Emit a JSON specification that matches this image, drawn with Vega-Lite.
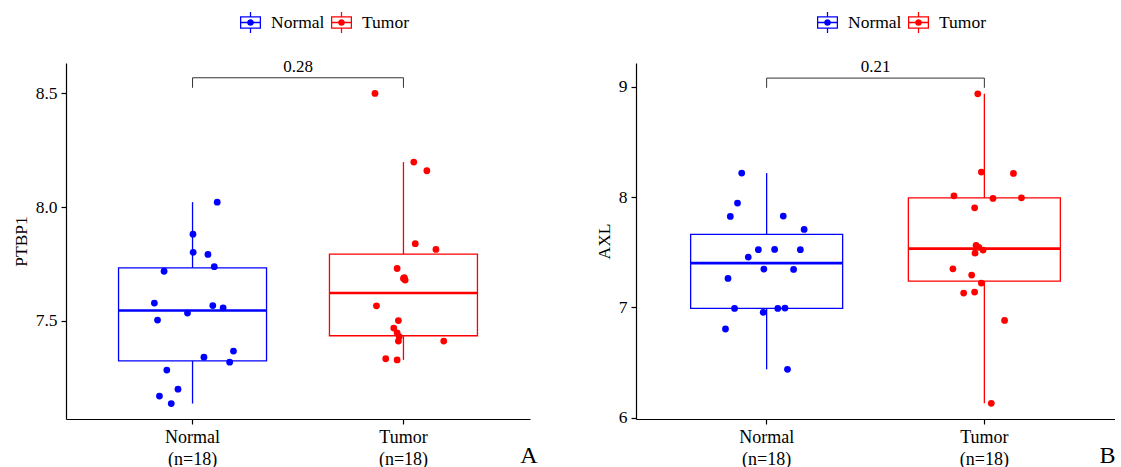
{
  "$schema": "https://vega.github.io/schema/vega-lite/v6.json",
  "padding": {"left": 12, "top": 12, "right": 0, "bottom": 0},
  "background": "white",
  "datasets": {
    "ptbp1": [
      {"group": "Normal", "value": 8.022, "jitter": 0.117},
      {"group": "Normal", "value": 7.881, "jitter": 0.002},
      {"group": "Normal", "value": 7.801, "jitter": 0.003},
      {"group": "Normal", "value": 7.792, "jitter": 0.073},
      {"group": "Normal", "value": 7.738, "jitter": 0.103},
      {"group": "Normal", "value": 7.718, "jitter": -0.135},
      {"group": "Normal", "value": 7.578, "jitter": -0.181},
      {"group": "Normal", "value": 7.567, "jitter": 0.096},
      {"group": "Normal", "value": 7.557, "jitter": 0.145},
      {"group": "Normal", "value": 7.534, "jitter": -0.024},
      {"group": "Normal", "value": 7.503, "jitter": -0.166},
      {"group": "Normal", "value": 7.367, "jitter": 0.194},
      {"group": "Normal", "value": 7.340, "jitter": 0.054},
      {"group": "Normal", "value": 7.318, "jitter": 0.176},
      {"group": "Normal", "value": 7.283, "jitter": -0.122},
      {"group": "Normal", "value": 7.199, "jitter": -0.069},
      {"group": "Normal", "value": 7.169, "jitter": -0.157},
      {"group": "Normal", "value": 7.136, "jitter": -0.101},
      {"group": "Tumor", "value": 8.500, "jitter": -0.135},
      {"group": "Tumor", "value": 8.198, "jitter": 0.049},
      {"group": "Tumor", "value": 8.160, "jitter": 0.111},
      {"group": "Tumor", "value": 7.839, "jitter": 0.056},
      {"group": "Tumor", "value": 7.814, "jitter": 0.154},
      {"group": "Tumor", "value": 7.730, "jitter": -0.030},
      {"group": "Tumor", "value": 7.686, "jitter": 0.000},
      {"group": "Tumor", "value": 7.679, "jitter": 0.008},
      {"group": "Tumor", "value": 7.690, "jitter": 0.004},
      {"group": "Tumor", "value": 7.566, "jitter": -0.128},
      {"group": "Tumor", "value": 7.501, "jitter": -0.024},
      {"group": "Tumor", "value": 7.468, "jitter": -0.046},
      {"group": "Tumor", "value": 7.447, "jitter": -0.030},
      {"group": "Tumor", "value": 7.430, "jitter": -0.020},
      {"group": "Tumor", "value": 7.411, "jitter": -0.024},
      {"group": "Tumor", "value": 7.411, "jitter": 0.191},
      {"group": "Tumor", "value": 7.333, "jitter": -0.084},
      {"group": "Tumor", "value": 7.328, "jitter": -0.030}
    ],
    "axl": [
      {"group": "Normal", "value": 8.218, "jitter": -0.102},
      {"group": "Normal", "value": 7.946, "jitter": -0.122},
      {"group": "Normal", "value": 7.825, "jitter": -0.156},
      {"group": "Normal", "value": 7.828, "jitter": 0.095},
      {"group": "Normal", "value": 7.707, "jitter": 0.194},
      {"group": "Normal", "value": 7.523, "jitter": -0.023},
      {"group": "Normal", "value": 7.526, "jitter": 0.054},
      {"group": "Normal", "value": 7.523, "jitter": 0.176},
      {"group": "Normal", "value": 7.456, "jitter": -0.071},
      {"group": "Normal", "value": 7.347, "jitter": 0.003},
      {"group": "Normal", "value": 7.344, "jitter": 0.144},
      {"group": "Normal", "value": 7.263, "jitter": -0.167},
      {"group": "Normal", "value": 6.991, "jitter": -0.136},
      {"group": "Normal", "value": 6.991, "jitter": 0.069},
      {"group": "Normal", "value": 6.994, "jitter": 0.103},
      {"group": "Normal", "value": 6.955, "jitter": 0.000},
      {"group": "Normal", "value": 6.804, "jitter": -0.179},
      {"group": "Normal", "value": 6.438, "jitter": 0.115},
      {"group": "Tumor", "value": 8.937, "jitter": -0.015},
      {"group": "Tumor", "value": 8.227, "jitter": 0.002},
      {"group": "Tumor", "value": 8.215, "jitter": 0.154},
      {"group": "Tumor", "value": 8.012, "jitter": -0.128},
      {"group": "Tumor", "value": 7.988, "jitter": 0.057},
      {"group": "Tumor", "value": 7.994, "jitter": 0.192},
      {"group": "Tumor", "value": 7.903, "jitter": -0.030},
      {"group": "Tumor", "value": 7.562, "jitter": -0.023},
      {"group": "Tumor", "value": 7.545, "jitter": -0.010},
      {"group": "Tumor", "value": 7.520, "jitter": 0.010},
      {"group": "Tumor", "value": 7.492, "jitter": -0.028},
      {"group": "Tumor", "value": 7.350, "jitter": -0.133},
      {"group": "Tumor", "value": 7.293, "jitter": -0.044},
      {"group": "Tumor", "value": 7.221, "jitter": 0.002},
      {"group": "Tumor", "value": 7.130, "jitter": -0.082},
      {"group": "Tumor", "value": 7.139, "jitter": -0.030},
      {"group": "Tumor", "value": 6.882, "jitter": 0.112},
      {"group": "Tumor", "value": 6.130, "jitter": 0.049}
    ],
    "brackets": [
      {"gene": "PTBP1", "group": "Normal", "y": 8.525, "o": 1},
      {"gene": "PTBP1", "group": "Normal", "y": 8.569, "o": 2},
      {"gene": "PTBP1", "group": "Tumor", "y": 8.569, "o": 3},
      {"gene": "PTBP1", "group": "Tumor", "y": 8.525, "o": 4},
      {"gene": "AXL", "group": "Normal", "y": 8.991, "o": 1},
      {"gene": "AXL", "group": "Normal", "y": 9.079, "o": 2},
      {"gene": "AXL", "group": "Tumor", "y": 9.079, "o": 3},
      {"gene": "AXL", "group": "Tumor", "y": 8.991, "o": 4}
    ],
    "pvals": [
      {"gene": "PTBP1", "p": "0.28", "y": 8.569},
      {"gene": "AXL", "p": "0.21", "y": 9.079}
    ]
  },
  "spacing": 58,
  "hconcat": [
    {
      "width": 464,
      "height": 356,
      "data": {"name": "ptbp1"},
      "layer": [
        {
          "transform": [
            {"joinaggregate": [
              {"op": "q1", "field": "value", "as": "q1"},
              {"op": "q3", "field": "value", "as": "q3"},
              {"op": "median", "field": "value", "as": "med"}
            ], "groupby": ["group"]},
            {"filter": "datum.value >= datum.q1 - 1.5 * (datum.q3 - datum.q1) && datum.value <= datum.q3 + 1.5 * (datum.q3 - datum.q1)"},
            {"aggregate": [
              {"op": "min", "field": "value", "as": "lo"},
              {"op": "max", "field": "value", "as": "hi"},
              {"op": "min", "field": "q1", "as": "q1"},
              {"op": "min", "field": "q3", "as": "q3"},
              {"op": "min", "field": "med", "as": "med"}
            ], "groupby": ["group"]}
          ],
          "layer": [
            {
              "mark": {"type": "rule", "strokeWidth": 1.3},
              "encoding": {
                "x": {"field": "group", "type": "nominal", "scale": {"type": "band", "domain": ["Normal", "Tumor"], "paddingInner": 0, "paddingOuter": 0.1}, "axis": {"title": "A", "titleX": 471, "titleY": 43, "titleAlign": "right", "titleBaseline": "alphabetic", "titleFontSize": 24, "labelAngle": 0, "labelExpr": "[datum.label, '(n=18)']"}},
                "y": {"field": "lo", "type": "quantitative", "scale": {"domain": [7.068, 8.634], "nice": false, "zero": false}, "axis": {"title": "PTBP1", "values": [7.5, 8.0, 8.5], "format": ".1f"}},
                "y2": {"field": "hi"},
                "stroke": {"condition": {"test": "datum.group === 'Normal'", "value": "#0000FF"}, "value": "#FF0000"}
              }
            },
            {
              "mark": {"type": "bar", "size": 148, "fill": "white", "strokeWidth": 1.3},
              "encoding": {
                "x": {"field": "group", "type": "nominal", "scale": {"type": "band", "domain": ["Normal", "Tumor"], "paddingInner": 0, "paddingOuter": 0.1}, "axis": {"title": "A", "titleX": 471, "titleY": 43, "titleAlign": "right", "titleBaseline": "alphabetic", "titleFontSize": 24, "labelAngle": 0, "labelExpr": "[datum.label, '(n=18)']"}},
                "y": {"field": "q1", "type": "quantitative"},
                "y2": {"field": "q3"},
                "stroke": {"condition": {"test": "datum.group === 'Normal'", "value": "#0000FF"}, "value": "#FF0000"}
              }
            },
            {
              "mark": {"type": "tick", "size": 148, "thickness": 2.6, "opacity": 1},
              "encoding": {
                "x": {"field": "group", "type": "nominal", "scale": {"type": "band", "domain": ["Normal", "Tumor"], "paddingInner": 0, "paddingOuter": 0.1}, "axis": {"title": "A", "titleX": 471, "titleY": 43, "titleAlign": "right", "titleBaseline": "alphabetic", "titleFontSize": 24, "labelAngle": 0, "labelExpr": "[datum.label, '(n=18)']"}},
                "y": {"field": "med", "type": "quantitative"},
                "fill": {"condition": {"test": "datum.group === 'Normal'", "value": "#0000FF"}, "value": "#FF0000"}
              }
            }
          ]
        },
        {
          "mark": {"type": "circle", "size": 46, "opacity": 1},
          "encoding": {
            "x": {"field": "group", "type": "nominal", "scale": {"type": "band", "domain": ["Normal", "Tumor"], "paddingInner": 0, "paddingOuter": 0.1}, "axis": {"title": "A", "titleX": 471, "titleY": 43, "titleAlign": "right", "titleBaseline": "alphabetic", "titleFontSize": 24, "labelAngle": 0, "labelExpr": "[datum.label, '(n=18)']"}},
            "xOffset": {"field": "jitter", "type": "quantitative", "scale": {"domain": [-0.5, 0.5]}},
            "y": {"field": "value", "type": "quantitative"},
            "color": {"field": "group", "type": "nominal", "scale": {"domain": ["Normal", "Tumor"], "range": ["#0000FF", "#FF0000"]},
              "legend": {"title": null, "orient": "none", "legendX": 174, "legendY": -51, "direction": "horizontal", "symbolType": "M-1,-0.6H1V0.6H-1Z M-0.88,-0.48V0.48H0.88V-0.48Z M-0.88,-0.06H0.88V0.06H-0.88Z M-0.06,-1H0.06V-0.6H-0.06Z M-0.06,0.6H0.06V1H-0.06Z M-0.32,0A0.32,0.32 0 1,1 0.32,0A0.32,0.32 0 1,1 -0.32,0Z", "symbolSize": 441, "symbolStrokeWidth": 0, "symbolOpacity": 1, "labelFontSize": 17.5, "labelFont": "Liberation Serif", "labelColor": "black", "labelOffset": 10, "columnPadding": 6, "padding": 0}}
          }
        },
        {
          "data": {"name": "brackets"},
          "transform": [{"filter": "datum.gene === 'PTBP1'"}],
          "mark": {"type": "line", "color": "#333333", "strokeWidth": 1},
          "encoding": {
            "x": {"field": "group", "type": "nominal", "scale": {"type": "band", "domain": ["Normal", "Tumor"], "paddingInner": 0, "paddingOuter": 0.1}, "axis": {"title": "A", "titleX": 471, "titleY": 43, "titleAlign": "right", "titleBaseline": "alphabetic", "titleFontSize": 24, "labelAngle": 0, "labelExpr": "[datum.label, '(n=18)']"}},
            "y": {"field": "y", "type": "quantitative"},
            "order": {"field": "o", "type": "quantitative"}
          }
        },
        {
          "data": {"name": "pvals"},
          "transform": [{"filter": "datum.gene === 'PTBP1'"}],
          "mark": {"type": "text", "baseline": "bottom", "dy": -2, "fontSize": 17, "font": "Liberation Serif", "color": "black"},
          "encoding": {
            "y": {"field": "y", "type": "quantitative"},
            "text": {"field": "p", "type": "nominal"}
          }
        }
      ]
    },
    {
      "width": 479,
      "height": 356,
      "data": {"name": "axl"},
      "layer": [
        {
          "transform": [
            {"joinaggregate": [
              {"op": "q1", "field": "value", "as": "q1"},
              {"op": "q3", "field": "value", "as": "q3"},
              {"op": "median", "field": "value", "as": "med"}
            ], "groupby": ["group"]},
            {"filter": "datum.value >= datum.q1 - 1.5 * (datum.q3 - datum.q1) && datum.value <= datum.q3 + 1.5 * (datum.q3 - datum.q1)"},
            {"aggregate": [
              {"op": "min", "field": "value", "as": "lo"},
              {"op": "max", "field": "value", "as": "hi"},
              {"op": "min", "field": "q1", "as": "q1"},
              {"op": "min", "field": "q3", "as": "q3"},
              {"op": "min", "field": "med", "as": "med"}
            ], "groupby": ["group"]}
          ],
          "layer": [
            {
              "mark": {"type": "rule", "strokeWidth": 1.3},
              "encoding": {
                "x": {"field": "group", "type": "nominal", "scale": {"type": "band", "domain": ["Normal", "Tumor"], "paddingInner": 0, "paddingOuter": 0.1}, "axis": {"title": "B", "titleX": 479, "titleY": 43, "titleAlign": "right", "titleBaseline": "alphabetic", "titleFontSize": 24, "labelAngle": 0, "labelExpr": "[datum.label, '(n=18)']"}},
                "y": {"field": "lo", "type": "quantitative", "scale": {"domain": [5.988, 9.216], "nice": false, "zero": false}, "axis": {"title": "AXL", "values": [6, 7, 8, 9], "format": "d"}},
                "y2": {"field": "hi"},
                "stroke": {"condition": {"test": "datum.group === 'Normal'", "value": "#0000FF"}, "value": "#FF0000"}
              }
            },
            {
              "mark": {"type": "bar", "size": 152, "fill": "white", "strokeWidth": 1.3},
              "encoding": {
                "x": {"field": "group", "type": "nominal", "scale": {"type": "band", "domain": ["Normal", "Tumor"], "paddingInner": 0, "paddingOuter": 0.1}, "axis": {"title": "B", "titleX": 479, "titleY": 43, "titleAlign": "right", "titleBaseline": "alphabetic", "titleFontSize": 24, "labelAngle": 0, "labelExpr": "[datum.label, '(n=18)']"}},
                "y": {"field": "q1", "type": "quantitative"},
                "y2": {"field": "q3"},
                "stroke": {"condition": {"test": "datum.group === 'Normal'", "value": "#0000FF"}, "value": "#FF0000"}
              }
            },
            {
              "mark": {"type": "tick", "size": 152, "thickness": 2.6, "opacity": 1},
              "encoding": {
                "x": {"field": "group", "type": "nominal", "scale": {"type": "band", "domain": ["Normal", "Tumor"], "paddingInner": 0, "paddingOuter": 0.1}, "axis": {"title": "B", "titleX": 479, "titleY": 43, "titleAlign": "right", "titleBaseline": "alphabetic", "titleFontSize": 24, "labelAngle": 0, "labelExpr": "[datum.label, '(n=18)']"}},
                "y": {"field": "med", "type": "quantitative"},
                "fill": {"condition": {"test": "datum.group === 'Normal'", "value": "#0000FF"}, "value": "#FF0000"}
              }
            }
          ]
        },
        {
          "mark": {"type": "circle", "size": 46, "opacity": 1},
          "encoding": {
            "x": {"field": "group", "type": "nominal", "scale": {"type": "band", "domain": ["Normal", "Tumor"], "paddingInner": 0, "paddingOuter": 0.1}, "axis": {"title": "B", "titleX": 479, "titleY": 43, "titleAlign": "right", "titleBaseline": "alphabetic", "titleFontSize": 24, "labelAngle": 0, "labelExpr": "[datum.label, '(n=18)']"}},
            "xOffset": {"field": "jitter", "type": "quantitative", "scale": {"domain": [-0.5, 0.5]}},
            "y": {"field": "value", "type": "quantitative"},
            "color": {"field": "group", "type": "nominal", "scale": {"domain": ["Normal", "Tumor"], "range": ["#0000FF", "#FF0000"]},
              "legend": {"title": null, "orient": "none", "legendX": 181, "legendY": -51, "direction": "horizontal", "symbolType": "M-1,-0.6H1V0.6H-1Z M-0.88,-0.48V0.48H0.88V-0.48Z M-0.88,-0.06H0.88V0.06H-0.88Z M-0.06,-1H0.06V-0.6H-0.06Z M-0.06,0.6H0.06V1H-0.06Z M-0.32,0A0.32,0.32 0 1,1 0.32,0A0.32,0.32 0 1,1 -0.32,0Z", "symbolSize": 441, "symbolStrokeWidth": 0, "symbolOpacity": 1, "labelFontSize": 17.5, "labelFont": "Liberation Serif", "labelColor": "black", "labelOffset": 10, "columnPadding": 6, "padding": 0}}
          }
        },
        {
          "data": {"name": "brackets"},
          "transform": [{"filter": "datum.gene === 'AXL'"}],
          "mark": {"type": "line", "color": "#333333", "strokeWidth": 1},
          "encoding": {
            "x": {"field": "group", "type": "nominal", "scale": {"type": "band", "domain": ["Normal", "Tumor"], "paddingInner": 0, "paddingOuter": 0.1}, "axis": {"title": "B", "titleX": 479, "titleY": 43, "titleAlign": "right", "titleBaseline": "alphabetic", "titleFontSize": 24, "labelAngle": 0, "labelExpr": "[datum.label, '(n=18)']"}},
            "y": {"field": "y", "type": "quantitative"},
            "order": {"field": "o", "type": "quantitative"}
          }
        },
        {
          "data": {"name": "pvals"},
          "transform": [{"filter": "datum.gene === 'AXL'"}],
          "mark": {"type": "text", "baseline": "bottom", "dy": -2, "fontSize": 17, "font": "Liberation Serif", "color": "black"},
          "encoding": {
            "y": {"field": "y", "type": "quantitative"},
            "text": {"field": "p", "type": "nominal"}
          }
        }
      ]
    }
  ],
  "resolve": {
    "scale": {"y": "independent", "x": "independent", "color": "independent"},
    "legend": {"color": "independent"}
  },
  "config": {
    "view": {"stroke": null},
    "font": "Liberation Serif",
    "axis": {
      "grid": false,
      "domainColor": "black",
      "domainWidth": 1.2,
      "tickColor": "black",
      "tickWidth": 1.2,
      "tickSize": 5,
      "labelColor": "black",
      "labelFont": "Liberation Serif",
      "labelFontSize": 17.5,
      "labelPadding": 4,
      "titleFont": "Liberation Serif",
      "titleFontSize": 17.5,
      "titleFontWeight": "normal",
      "titleColor": "black",
      "titlePadding": 5
    },
    "axisX": {"labelFontSize": 18, "labelLineHeight": 22, "labelPadding": 4},
    "axisY": {"labelFontSize": 17.5}
  }
}
